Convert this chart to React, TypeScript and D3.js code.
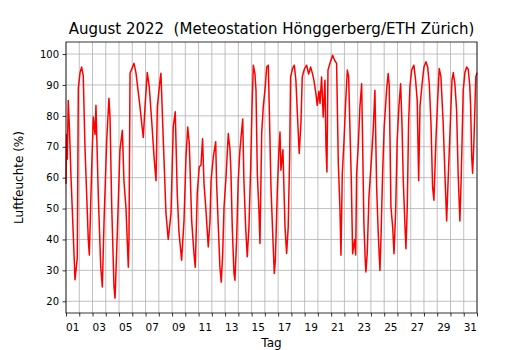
import * as d3 from 'd3'
import { useEffect, useRef } from 'react'

const woche1 = [
    [0.00, 58], [0.04, 74], [0.10, 66], [0.17, 85], [0.26, 76], [0.38, 60], [0.49, 48], [0.68, 27],
    [0.85, 34], [0.93, 89], [1.06, 94], [1.18, 95.8], [1.30, 93], [1.43, 70], [1.68, 40], [1.76, 35],
    [1.94, 63.5], [2.06, 79.6], [2.19, 74], [2.26, 83.4], [2.44, 53.8], [2.62, 31], [2.74, 24.6], [2.87, 46],
    [3.07, 72], [3.24, 85.7], [3.32, 79.6], [3.45, 50.5], [3.62, 24.6], [3.70, 21], [3.87, 42], [4.07, 69],
    [4.25, 75.3], [4.37, 59], [4.52, 50.5], [4.70, 31], [4.75, 40], [4.83, 93.8], [5.13, 97], [5.28, 93.8],
    [5.58, 83], [5.71, 77.6], [5.83, 73], [5.96, 83], [6.13, 94], [6.28, 89.4], [6.46, 78.6], [6.66, 65.6],
    [6.79, 59], [6.89, 83],
]
const woche2 = [
    [7.09, 91.5], [7.16, 93.8], [7.34, 72], [7.54, 48.5], [7.71, 40], [7.92, 48.5], [8.09, 76.4], [8.24, 81.3],
    [8.39, 55], [8.52, 42.4], [8.72, 33.3], [8.90, 46], [9.05, 66.7], [9.18, 76.4], [9.30, 71], [9.48, 46],
    [9.65, 35.5], [9.75, 31], [9.90, 55], [10.05, 63.5], [10.18, 64], [10.30, 72.6], [10.41, 58], [10.54, 50.5],
    [10.73, 37.6], [10.86, 46], [10.94, 59], [11.11, 66.7], [11.29, 71.6], [11.36, 58], [11.49, 44], [11.61, 31],
    [11.71, 26.2], [11.82, 35.5], [11.92, 50.5], [12.07, 60.2], [12.24, 74.3], [12.37, 69], [12.44, 62], [12.54, 44],
    [12.67, 29], [12.74, 26.8], [12.87, 40], [12.99, 59], [13.12, 69], [13.25, 75.3], [13.33, 79], [13.42, 59],
    [13.55, 44], [13.67, 34.4], [13.80, 44], [13.93, 63.5],
]
const woche3 = [
    [14.03, 83], [14.13, 96.4], [14.25, 93.7], [14.33, 88.3], [14.43, 61.4], [14.56, 48.5], [14.63, 38.7], [14.76, 74.4],
    [14.88, 83], [15.03, 89.4], [15.14, 95.8], [15.26, 96.4], [15.33, 83], [15.46, 57], [15.59, 42], [15.71, 29],
    [15.79, 33.3], [15.94, 56], [16.06, 69], [16.14, 74.8], [16.21, 62.4], [16.36, 69], [16.52, 44], [16.64, 35.5],
    [16.76, 44], [16.87, 67], [16.94, 92.6], [17.09, 95.3], [17.22, 96.4], [17.34, 91.5], [17.44, 81.8], [17.59, 67.8],
    [17.72, 77.5], [17.82, 92.6], [17.97, 95], [18.15, 96.4], [18.30, 93.5], [18.45, 95.8], [18.60, 93.5], [18.70, 91.5],
    [18.85, 87.2], [18.95, 83.4], [19.08, 88], [19.16, 84], [19.28, 92.6], [19.40, 79.6], [19.53, 91.5], [19.61, 70],
    [19.68, 61.8], [19.76, 94.8], [19.91, 97], [20.11, 99.6], [20.26, 98], [20.41, 97],
]
const woche4 = [
    [20.54, 64.6], [20.66, 50.5], [20.74, 34.9], [20.84, 61.3], [20.97, 72], [21.10, 85], [21.22, 94.8], [21.32, 92.6],
    [21.42, 75.3], [21.52, 59], [21.62, 35.4], [21.77, 40], [21.85, 35], [21.92, 61.3], [22.04, 70], [22.17, 83],
    [22.30, 90.4], [22.37, 72], [22.47, 45], [22.57, 33.3], [22.62, 29.5], [22.72, 35.5], [22.85, 53.8], [23.00, 63.5],
    [23.17, 75.3], [23.30, 88.3], [23.43, 57], [23.55, 42], [23.68, 30], [23.76, 40.8], [23.88, 61.3], [24.00, 76.4],
    [24.18, 88.3], [24.30, 93.7], [24.38, 90], [24.51, 50.5], [24.64, 44], [24.74, 35.4], [24.86, 48.5], [24.98, 72],
    [25.11, 83], [25.24, 90.4], [25.34, 77.5], [25.44, 59], [25.57, 44], [25.64, 37], [25.74, 50.5], [25.84, 77.5],
    [25.94, 89.4], [26.07, 94.8], [26.24, 96.4], [26.37, 91.5], [26.49, 85], [26.60, 59], [26.70, 83], [26.85, 90],
]
const woche5 = [
    [27.00, 95.8], [27.15, 97.5], [27.28, 95.8], [27.40, 90.4], [27.53, 77.5], [27.65, 57], [27.75, 52.7], [27.90, 72],
    [28.03, 85], [28.15, 95.3], [28.28, 92.6], [28.45, 77.5], [28.58, 61.3], [28.71, 46], [28.83, 60], [28.96, 74.3],
    [29.11, 91.5], [29.21, 94], [29.34, 90], [29.46, 82], [29.58, 61], [29.71, 46], [29.81, 60], [29.96, 88.3],
    [30.09, 94], [30.22, 95.8], [30.34, 95], [30.45, 90], [30.52, 83], [30.60, 66.7], [30.67, 61.4], [30.77, 72],
    [30.91, 92.6], [31.00, 94],
]

const tagLabels = ['01', '03', '05', '07', '09', '11', '13', '15', '17', '19', '21', '23', '25', '27', '29', '31']
const yTicks = [20, 30, 40, 50, 60, 70, 80, 90, 100]

export default function App() {
    const svgRef = useRef(null)

    const width = 530, height = 350
    const margin = { top: 42, right: 53, bottom: 37, left: 66 }
    const innerW = width - margin.left - margin.right
    const innerH = height - margin.top - margin.bottom

    useEffect(() => {
        const svg = d3.select(svgRef.current)
        svg.selectAll('*').remove()

        const data = [...woche1, ...woche2, ...woche3, ...woche4, ...woche5]

        const x = d3.scaleLinear().domain([0, 31]).range([0, innerW])
        const y = d3.scaleLinear().domain([16.2, 103.9]).range([innerH, 0])

        const g = svg.append('g').attr('transform', `translate(${margin.left},${margin.top})`)
        const font = 'DejaVu Sans, sans-serif'

        // grid
        const days = d3.range(0, 32)
        g.append('g').selectAll('line').data(days).enter().append('line')
            .attr('x1', d => x(d)).attr('x2', d => x(d))
            .attr('y1', 0).attr('y2', innerH)
            .attr('stroke', '#b0b0b0').attr('stroke-width', 0.8)
        g.append('g').selectAll('line').data(yTicks).enter().append('line')
            .attr('x1', 0).attr('x2', innerW)
            .attr('y1', d => y(d)).attr('y2', d => y(d))
            .attr('stroke', '#b0b0b0').attr('stroke-width', 0.8)

        // line
        const line = d3.line().x(d => x(d[0])).y(d => y(d[1]))
        g.append('path')
            .datum(data)
            .attr('d', line)
            .attr('fill', 'none')
            .attr('stroke', '#ff0000')
            .attr('stroke-width', 1.5)
            .attr('stroke-linejoin', 'round')

        // axes
        const xAxis = d3.axisBottom(x).tickValues(days).tickSize(3.5).tickFormat(() => '')
        const xg = g.append('g').attr('transform', `translate(0,${innerH})`).call(xAxis)
        xg.select('.domain').remove()
        xg.selectAll('line').attr('stroke', '#000').attr('stroke-width', 0.8)

        g.append('g').selectAll('text').data(tagLabels).enter().append('text')
            .attr('x', d => x(+d - 0.5))
            .attr('y', innerH + 17.5)
            .attr('text-anchor', 'middle')
            .style('font-family', font)
            .style('font-size', '10.5px')
            .text(d => d)

        const yAxis = d3.axisLeft(y).tickValues(yTicks).tickSize(3.5).tickPadding(3.5)
        const yg = g.append('g').call(yAxis)
        yg.select('.domain').remove()
        yg.selectAll('line').attr('stroke', '#000').attr('stroke-width', 0.8)
        yg.selectAll('text').style('font-family', font).style('font-size', '10px').attr('fill', '#000')

        // frame
        g.append('rect')
            .attr('width', innerW).attr('height', innerH)
            .attr('fill', 'none').attr('stroke', '#000').attr('stroke-width', 0.8)

        // title + labels
        svg.append('text')
            .attr('x', margin.left + innerW / 2).attr('y', 34)
            .attr('text-anchor', 'middle')
            .attr('xml:space', 'preserve')
            .style('font-family', font).style('font-size', '15px')
            .text('August 2022  (Meteostation Hönggerberg/ETH Zürich)')
        svg.append('text')
            .attr('x', margin.left + innerW / 2).attr('y', 347)
            .attr('text-anchor', 'middle')
            .style('font-family', font).style('font-size', '12px')
            .text('Tag')
        svg.append('text')
            .attr('transform', `translate(23,${margin.top + innerH / 2}) rotate(-90)`)
            .attr('text-anchor', 'middle')
            .style('font-family', font).style('font-size', '12px')
            .text('Luftfeuchte (%)')
    }, [])

    return (
        <svg
            ref={svgRef}
            width={width}
            height={height}
            style={{ position: 'absolute', left: 0, top: 0, background: '#fff' }}
        />
    )
}
